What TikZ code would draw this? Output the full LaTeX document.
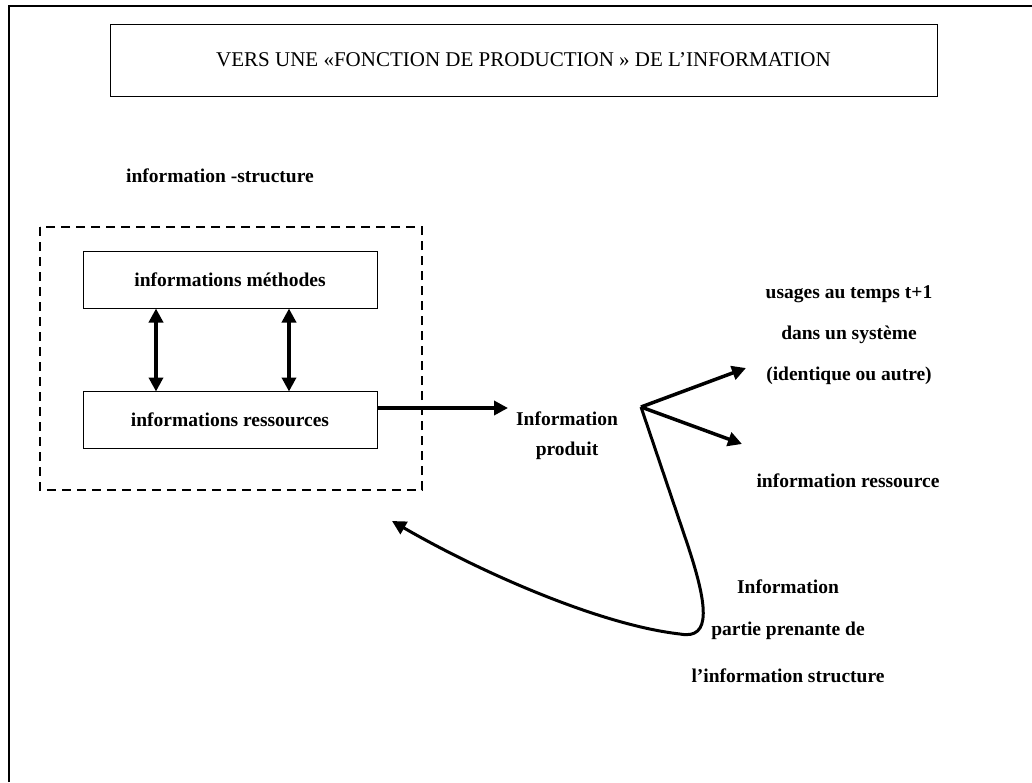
\documentclass[tikz,border=0pt]{standalone}
\usepackage{fontspec}
\setmainfont{Liberation Serif}
\usetikzlibrary{arrows.meta}
\begin{document}
\begin{tikzpicture}[x=1pt,y=-1pt,
  box/.style={draw,line width=1pt,minimum width=294pt,minimum height=57pt,inner sep=0pt},
  lbl/.style={font=\fontsize{19.5}{22}\selectfont\bfseries,inner sep=0pt},
  arr/.style={line width=3.5pt,-{Triangle[length=14pt,width=14pt]}},
  darr/.style={line width=3.5pt,{Triangle[length=14pt,width=14pt]}-{Triangle[length=14pt,width=14pt]}}]
\useasboundingbox (0,0) rectangle (1032,782);
% outer frame
\draw[line width=1.3pt] (9,782) -- (9,6) -- (1032,6);
% title
\node[draw,line width=1pt,minimum width=827pt,minimum height=72pt,inner sep=0pt,
  font=\fontsize{21}{24}\selectfont] (title) at (523.5,60) {VERS UNE «FONCTION DE PRODUCTION » DE L’INFORMATION};
\node[lbl] (struct) at (220,176) {information -structure};
% dashed box
\draw[dashed,dash pattern=on 9pt off 6pt,line width=1.4pt] (40,227) rectangle (422,490);
\node[box] (meth) at (230,280) {};
\node[lbl] at (meth) {informations méthodes};
\node[box] (res) at (230,420) {};
\node[lbl] at (res) {informations ressources};
\draw[darr] (156,308.5) -- (156,391.5);
\draw[darr] (289,308.5) -- (289,391.5);
% product
\node[lbl,align=center] (prod) at (567,436) {Information\\[8pt]produit};
\coordinate (fork) at (641,407);
\draw[arr] (res.east |- 0,408) -- (508,408);
\draw[arr] (fork) -- (746,368);
\draw[arr] (fork) -- (742,444);
\node[lbl] (usage1) at (849,294) {usages au temps t+1};
\node[lbl] (usage2) at (849,335) {dans un système};
\node[lbl] (usage3) at (849,376) {(identique ou autre)};
\node[lbl] (ires) at (848,481) {information ressource};
% return curve
\draw[arr,line width=3pt] (fork) -- (686,540) .. controls (708,605) and (712,640) .. (680,634) .. controls (600,625) and (480,572) .. (392,521);
\node[lbl] (p1) at (788,587) {Information};
\node[lbl] (p2) at (788,631) {partie prenante de};
\node[lbl] (p3) at (788,676) {l’information structure};
\end{tikzpicture}
\end{document}
